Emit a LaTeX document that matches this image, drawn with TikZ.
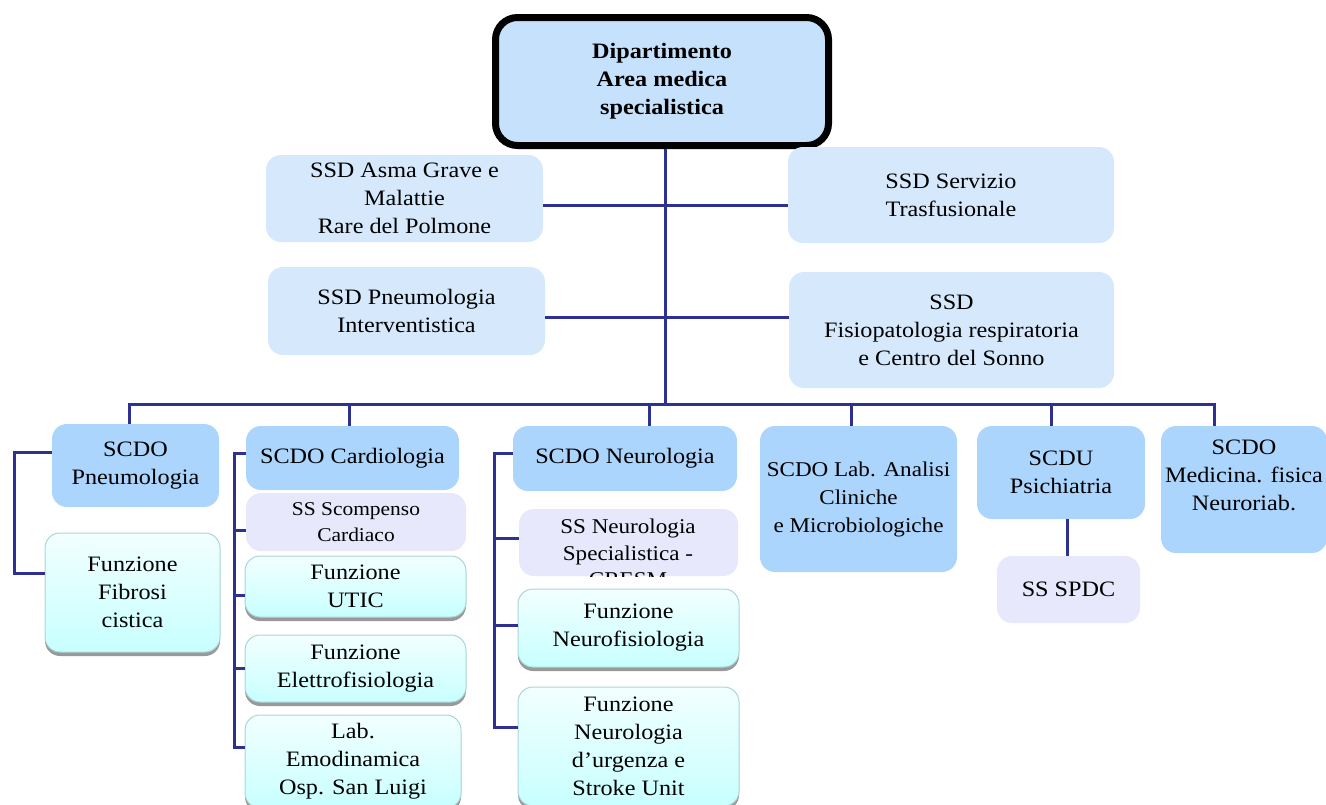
\documentclass[tikz,border=0pt]{standalone}
\usepackage{fontspec}
\setmainfont{Liberation Serif}[FakeStretch=1.1]
\usetikzlibrary{shadows}

\definecolor{linkblue}{RGB}{46,49,146}
\definecolor{deptfill}{RGB}{197,225,251}
\definecolor{ssdfill}{RGB}{214,233,252}
\definecolor{scfill}{RGB}{171,213,252}
\definecolor{ssfill}{RGB}{232,232,252}
\definecolor{funtop}{RGB}{242,255,255}
\definecolor{funbot}{RGB}{200,255,255}
\definecolor{funedge}{RGB}{170,214,214}

\tikzset{
  unit/.style={rounded corners=15pt, align=center, inner sep=0pt,
    font=\fontsize{22}{28}\selectfont, text=black},
  dept/.style={unit, draw=black, line width=7pt, fill=deptfill,
    rounded corners=22pt, font=\bfseries\fontsize{22}{28}\selectfont},
  ssdbox/.style={unit, fill=ssdfill},
  scbox/.style={unit, fill=scfill},
  ssbox/.style={unit, fill=ssfill},
  funbox/.style={unit, draw=funedge, line width=1pt,
    top color=funtop, bottom color=funbot,
    drop shadow={shadow xshift=0pt, shadow yshift=-4pt, fill=black!40, opacity=1}},
  link/.style={draw=linkblue, line width=3pt},
}

\begin{document}
\begin{tikzpicture}[x=1pt, y=-1pt]
\useasboundingbox (0,0) rectangle (1326,804);

% department head
\node[dept, minimum width=333pt, minimum height=128pt] (dept) at (662,81.5)
  {Dipartimento\\Area medica\\specialistica};

% simple departmental units
\node[ssdbox, minimum width=277pt, minimum height=87pt] (asma) at (404.5,198.5)
  {SSD Asma Grave e\\Malattie\\Rare del Polmone};
\node[ssdbox, minimum width=277pt, minimum height=88pt] (pint) at (406.5,311)
  {SSD Pneumologia\\Interventistica};
\node[ssdbox, minimum width=326pt, minimum height=96pt] (serv) at (951,195)
  {SSD Servizio\\Trasfusionale};
\node[ssdbox, minimum width=325pt, minimum height=116pt] (fisio) at (951.5,330)
  {SSD\\Fisiopatologia respiratoria\\e Centro del Sonno};

% complex units
\node[scbox, minimum width=167pt, minimum height=83pt] (pneu) at (135.5,465.5)
  {SCDO\\Pneumologia};
\node[scbox, minimum width=213pt, minimum height=64pt] (card) at (352.5,458)
  {SCDO Cardiologia};
\node[scbox, minimum width=224pt, minimum height=65pt] (neu) at (625,458.5)
  {SCDO Neurologia};
\node[scbox, minimum width=197pt, minimum height=146pt,
  font=\fontsize{21}{28}\selectfont] (lab) at (858.5,499)
  {SCDO Lab. Analisi\\Cliniche\\e Microbiologiche};
\node[scbox, minimum width=168pt, minimum height=93pt] (psi) at (1061,472.5)
  {SCDU\\Psichiatria};
\node[scbox, minimum width=166pt, minimum height=127pt] (med) at (1244,489.5)
  {SCDO\\Medicina. fisica\\Neuroriab.\\\mbox{}};

% simple units
\node[ssbox, minimum width=220pt, minimum height=58pt,
  font=\fontsize{19.5}{26}\selectfont] (scomp) at (356,522)
  {SS Scompenso\\Cardiaco};
\node[ssbox, minimum width=143pt, minimum height=67pt] (spdc) at (1068.5,589.5)
  {SS SPDC};
\node[ssbox, minimum width=219pt, minimum height=67pt] (ssneu) at (628.5,542.5) {};
\begin{scope}
  \clip[rounded corners=15pt] (ssneu.south west) rectangle (ssneu.north east);
  \node[unit, font=\fontsize{21}{26.5}\selectfont] (ssneutxt) at (628,553)
    {SS Neurologia\\Specialistica -\\CRESM};
\end{scope}

% functions
\node[funbox, minimum width=175pt, minimum height=119pt] (fib) at (132.5,592.5)
  {Funzione\\Fibrosi\\cistica};
\node[funbox, minimum width=221pt, minimum height=61pt] (utic) at (355.5,586.5)
  {Funzione\\UTIC};
\node[funbox, minimum width=221pt, minimum height=67pt] (elet) at (355.5,668.5)
  {Funzione\\Elettrofisiologia};
\node[funbox, minimum width=216pt, minimum height=93pt] (emo) at (353,761.5)
  {Lab.\\Emodinamica\\Osp. San Luigi};
\node[funbox, minimum width=221pt, minimum height=78pt] (nfis) at (628.5,628)
  {Funzione\\Neurofisiologia};
\node[funbox, minimum width=221pt, minimum height=119pt] (nurg) at (628.5,746.5)
  {Funzione\\Neurologia\\d’urgenza e\\Stroke Unit};

% connector anchor points
\coordinate (stem) at (665,404);
\coordinate (d1) at (129,404);
\coordinate (d2) at (349,404);
\coordinate (d3) at (649,404);
\coordinate (d4) at (851,404);
\coordinate (d5) at (1051,404);
\coordinate (d6) at (1214,404);
\coordinate (r1) at (665,205);
\coordinate (r2) at (665,317);
\coordinate (pA) at (14,452);
\coordinate (pB) at (14,573);
\coordinate (cA) at (234,453);
\coordinate (cB) at (234,530);
\coordinate (cC) at (234,595);
\coordinate (cD) at (234,668);
\coordinate (cE) at (234,747);
\coordinate (nA) at (494,453);
\coordinate (nB) at (494,538);
\coordinate (nC) at (494,625);
\coordinate (nD) at (494,727);
\coordinate (sA) at (1067,519);

% main trunk and side units
\draw[link] (stem |- dept.south) -- (stem);
\draw[link] (asma.east |- r1) -- (serv.west |- r1);
\draw[link] (pint.east |- r2) -- (fisio.west |- r2);

% bus to complex units
\draw[link] (d1 |- pneu.north) -- (d1) -- (d6) -- (d6 |- med.north);
\draw[link] (d2) -- (d2 |- card.north);
\draw[link] (d3) -- (d3 |- neu.north);
\draw[link] (d4) -- (d4 |- lab.north);
\draw[link] (d5) -- (d5 |- psi.north);

% pneumology branch
\draw[link] (pneu.west |- pA) -- (pA) -- (pB) -- (fib.west |- pB);

% cardiology branch
\draw[link] (card.west |- cA) -- (cA) -- (cE) -- (emo.west |- cE);
\draw[link] (cB) -- (scomp.west |- cB);
\draw[link] (cC) -- (utic.west |- cC);
\draw[link] (cD) -- (elet.west |- cD);

% neurology branch
\draw[link] (neu.west |- nA) -- (nA) -- (nD) -- (nurg.west |- nD);
\draw[link] (nB) -- (ssneu.west |- nB);
\draw[link] (nC) -- (nfis.west |- nC);

% psychiatry
\draw[link] (psi.south -| sA) -- (spdc.north -| sA);
\end{tikzpicture}
\end{document}
